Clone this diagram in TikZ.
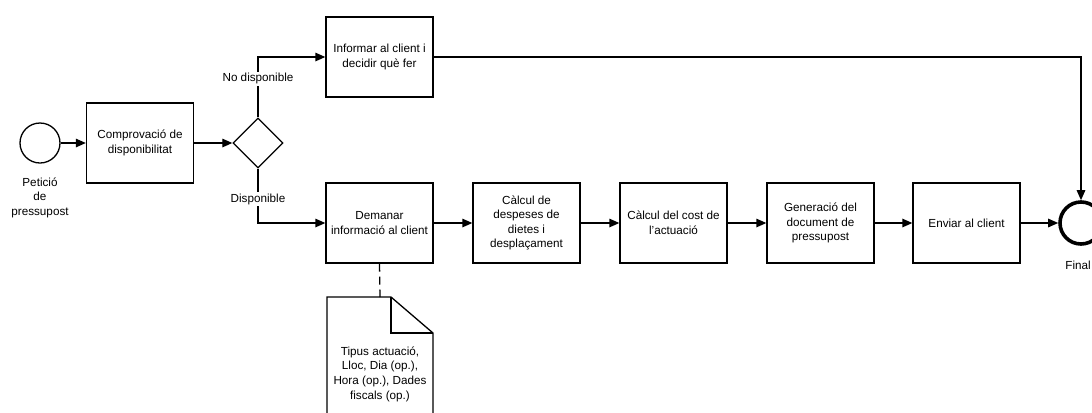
\documentclass[tikz,border=0pt]{standalone}
\usepackage{fontspec}
\setmainfont{Liberation Sans}
\usetikzlibrary{arrows.meta,shapes.geometric}

\newcommand\diagfont{\fontsize{11.7bp}{14.6bp}\selectfont}

\tikzset{
  task/.style={draw, line width=1.3bp, minimum width=107bp, minimum height=80bp,
    inner sep=2bp, align=center, font=\diagfont},
  startev/.style={circle, draw, line width=1.3bp, minimum size=40bp, inner sep=0pt},
  endev/.style={circle, draw, line width=3.6bp, minimum size=42bp, inner sep=0pt},
  gateway/.style={diamond, draw, line width=1.3bp, minimum width=50bp, minimum height=50bp,
    inner sep=0pt, aspect=1},
  flow/.style={line width=1.3bp, -{Triangle[length=10bp,width=8.5bp]}},
  assoc/.style={line width=1.3bp, dash pattern=on 8bp off 5bp},
  lab/.style={fill=white, inner sep=1.5bp, font=\diagfont, align=center},
  docshape/.style={line width=1.3bp},
}

\begin{document}
\begin{tikzpicture}[x=1bp, y=-1bp]
  \useasboundingbox (0,0) rectangle (1092,412);
  \clip (0,0) rectangle (1092,412);

  % events and gateway
  \node[startev] (start) at (40,143) {};
  \node[lab, anchor=north] (startlab) at (40,176) {Petició\\de\\pressupost};
  \node[task] (check) at (140,143) {Comprovació de\\disponibilitat};
  \node[gateway] (gate) at (258,143) {};

  % tasks
  \node[task] (inform)   at (379.5,57)  {Informar al client i\\decidir què fer};
  \node[task] (request)  at (379.5,223) {Demanar\\informació al client};
  \node[task] (travel)   at (526.5,223) {Càlcul de\\despeses de\\dietes i\\desplaçament};
  \node[task] (cost)     at (673.5,223) {Càlcul del cost de\\l'actuació};
  \node[task] (generate) at (820.5,223) {Generació del\\document de\\pressupost};
  \node[task] (send)     at (966.5,223) {Enviar al client};

  \node[endev] (final) at (1081,223) {};
  \node[font=\diagfont, anchor=north east, inner xsep=1bp] (finallab) at (1092,257) {Final};

  % data object
  \coordinate (doctop) at (380,297);
  \draw[docshape, fill=white] (327,297) -- (391,297) -- (433,333) -- (433,430) -- (327,430) -- cycle;
  \draw[docshape] (391,297) -- (391,333) -- (433,333);
  \node[font=\diagfont, align=center] (docnote) at (380,374)
    {Tipus actuació,\\Lloc, Dia (op.),\\Hora (op.), Dades\\fiscals (op.)};

  % sequence flows
  \draw[flow] (start) -- (check);
  \draw[flow] (check) -- (gate);
  \draw[flow] (gate.north) |- (inform.west) node[lab, pos=0.32] {No disponible};
  \draw[flow] (gate.south) |- (request.west) node[lab, pos=0.28] {Disponible};
  \draw[flow] (inform.east) -| (final.north);
  \draw[flow] (request) -- (travel);
  \draw[flow] (travel) -- (cost);
  \draw[flow] (cost) -- (generate);
  \draw[flow] (generate) -- (send);
  \draw[flow] (send) -- (final);

  % association to the data object
  \draw[assoc] (request.south) -- (doctop);
\end{tikzpicture}
\end{document}
